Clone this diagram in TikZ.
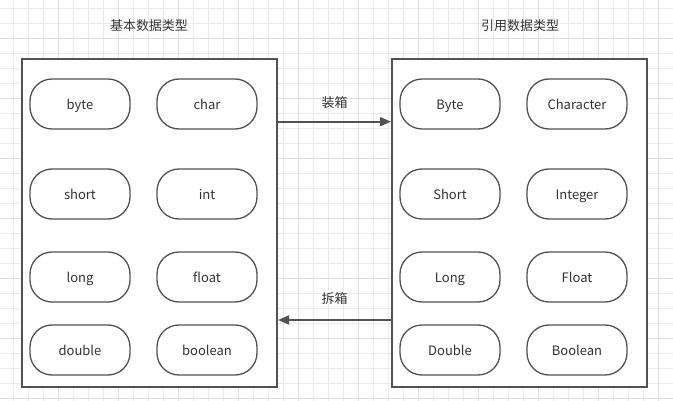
\documentclass[tikz,border=0pt]{standalone}
\usepackage{fontspec}
\setmainfont{Noto Sans CJK SC}
\usetikzlibrary{arrows.meta}
\definecolor{gridminor}{HTML}{EBEBEB}
\definecolor{gridmajor}{HTML}{DEDEDE}
\definecolor{linec}{HTML}{505356}
\definecolor{textc}{HTML}{333333}
\tikzset{
  pill/.style={draw=linec, line width=1.3pt, fill=white, rounded corners=22pt,
    minimum width=100pt, minimum height=50pt, inner sep=0pt,
    text height=11.5pt, text depth=1pt,
    text=textc, font=\fontsize{13pt}{15pt}\selectfont},
  panel/.style={draw=linec, line width=2pt, fill=white, inner sep=0pt},
  title/.style={text=textc, font=\fontsize{13pt}{15pt}\selectfont, inner sep=1pt},
  conn/.style={draw=linec, line width=1.7pt, -{Triangle[length=11pt,width=9pt]}},
}
\begin{document}
\begin{tikzpicture}[x=1pt,y=-1pt]
\useasboundingbox (0,0) rectangle (673,401);
\fill[white] (0,0) rectangle (673,401);
% grid
\foreach \i in {0,...,44} {
  \draw[gridminor, line width=0.8pt] ({13.5+15*\i},0) -- ({13.5+15*\i},401);
}
\foreach \j in {0,...,26} {
  \draw[gridminor, line width=0.8pt] (0,{8.3+15*\j}) -- (673,{8.3+15*\j});
}
\foreach \i in {0,...,10} {
  \draw[gridmajor, line width=0.9pt] ({58.5+60*\i},0) -- ({58.5+60*\i},401);
}
\foreach \j in {0,...,6} {
  \draw[gridmajor, line width=0.9pt] (0,{38.3+60*\j}) -- (673,{38.3+60*\j});
}
% titles
\node[title] (tl) at (149,26) {基本数据类型};
\node[title] (tr) at (520,26) {引用数据类型};
% panels
\node[panel, minimum width=255pt, minimum height=328pt] (L) at (149.5,223) {};
\node[panel, minimum width=255pt, minimum height=328pt] (R) at (519.5,223) {};
% left pills
\node[pill] (byte) at (80,104) {byte};
\node[pill] (char) at (207,104) {char};
\node[pill] (short) at (80,194) {short};
\node[pill] (int) at (207,194) {int};
\node[pill] (long) at (80,277) {long};
\node[pill] (float) at (207,277) {float};
\node[pill] (double) at (80,350) {double};
\node[pill] (boolean) at (207,350) {boolean};
% right pills
\node[pill] (Byte) at (450,104) {Byte};
\node[pill] (Character) at (577,104) {Character};
\node[pill] (Short) at (450,194) {Short};
\node[pill] (Integer) at (577,194) {Integer};
\node[pill] (Long) at (450,277) {Long};
\node[pill] (Float) at (577,277) {Float};
\node[pill] (Double) at (450,350) {Double};
\node[pill] (Boolean) at (577,350) {Boolean};
% connectors
\coordinate (a1) at (L.east |- 0,121.7);
\coordinate (a2) at (R.west |- 0,121.7);
\draw[conn] (a1) -- node[title, pos=0.5, above=11pt] (box) {装箱} (a2);
\coordinate (b1) at (R.west |- 0,320);
\coordinate (b2) at (L.east |- 0,320);
\draw[conn] (b1) -- node[title, pos=0.5, above=14pt] (unbox) {拆箱} (b2);
\end{tikzpicture}
\end{document}
